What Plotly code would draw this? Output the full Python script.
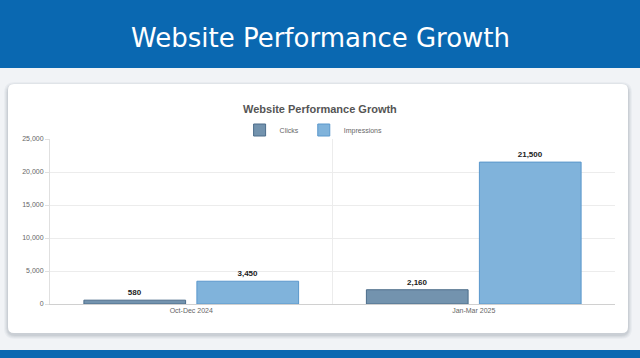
import plotly.graph_objects as go

categories = ["Oct-Dec 2024", "Jan-Mar 2025"]
clicks = [580, 2160]
impressions = [3450, 21500]
y_ticks = [0, 5000, 10000, 15000, 20000, 25000]

W, H = 640, 358

def px(x):
    return x / W

def py(y):
    return 1 - y / H

fig = go.Figure()
fig.add_trace(go.Bar(
    name="Clicks", x=categories, y=clicks,
    marker=dict(color="#7393ae", line=dict(color="#4c6d8a", width=1)),
    texttemplate="<b>%{y:,}</b>", textposition="outside",
    textfont=dict(size=8, color="#222", family="Liberation Sans"),
    cliponaxis=False,
))
fig.add_trace(go.Bar(
    name="Impressions", x=categories, y=impressions,
    marker=dict(color="#80b3db", line=dict(color="#5a98cc", width=1)),
    texttemplate="<b>%{y:,}</b>", textposition="outside",
    textfont=dict(size=8, color="#222", family="Liberation Sans"),
    cliponaxis=False,
))

shapes = []
shapes.append(dict(type="rect", xref="paper", yref="paper", x0=0, x1=1, y0=py(68), y1=1,
                   fillcolor="#0a68b1", line=dict(width=0), layer="below"))
shapes.append(dict(type="rect", xref="paper", yref="paper", x0=0, x1=1, y0=0, y1=py(350),
                   fillcolor="#0a68b1", line=dict(width=0), layer="below"))

def card_path(x0, y0, x1, y1, r):
    X0, X1 = px(x0), px(x1)
    Y0, Y1 = py(y1), py(y0)
    rx, ry = r / W, r / H
    return (f"M {X0+rx},{Y0} L {X1-rx},{Y0} Q {X1},{Y0} {X1},{Y0+ry} L {X1},{Y1-ry} "
            f"Q {X1},{Y1} {X1-rx},{Y1} L {X0+rx},{Y1} Q {X0},{Y1} {X0},{Y1-ry} "
            f"L {X0},{Y0+ry} Q {X0},{Y0} {X0+rx},{Y0} Z")

for i, op in enumerate([0.04, 0.05, 0.06, 0.07]):
    d = 5 - i
    shapes.append(dict(type="path", xref="paper", yref="paper",
                       path=card_path(8 - d + 1, 84 - d + 3, 628 + d - 1, 333 + d + 1, 6 + d),
                       fillcolor=f"rgba(60,70,90,{op})", line=dict(width=0), layer="below"))
shapes.append(dict(type="path", xref="paper", yref="paper",
                   path=card_path(8, 84, 628, 333, 6),
                   fillcolor="#ffffff", line=dict(width=0), layer="below"))
shapes.append(dict(type="line", xref="x", yref="paper", x0=0.5, x1=0.5,
                   y0=py(304), y1=py(139), line=dict(color="#ececec", width=1), layer="below"))

fig.update_layout(
    width=W, height=H, autosize=False,
    margin=dict(l=0, r=0, t=0, b=0, pad=0, autoexpand=False),
    paper_bgcolor="#f1f3f6",
    plot_bgcolor="rgba(0,0,0,0)",
    barmode="group", bargap=0.2, bargroupgap=0.1,
    shapes=shapes,
    showlegend=True,
    legend=dict(orientation="h", x=0.49, xanchor="center", y=py(130), yanchor="middle",
                font=dict(size=7, color="#666", family="Liberation Sans"),
                bgcolor="rgba(0,0,0,0)", itemwidth=30, traceorder="normal"),
    xaxis=dict(domain=[px(50), px(615)], automargin=False,
               showgrid=False, showline=True, linecolor="#d0d0d0", linewidth=1,
               tickfont=dict(size=7, color="#666", family="Liberation Sans"),
               ticks="", fixedrange=True),
    yaxis=dict(domain=[py(304), py(139)], range=[0, 25000], automargin=False,
               tickvals=y_ticks, tickformat=",",
               showgrid=True, gridcolor="#ececec", gridwidth=1,
               showline=True, linecolor="#e0e0e0", zeroline=False,
               ticks="outside", ticklen=4, tickcolor="#e0e0e0",
               tickfont=dict(size=7, color="#666", family="Liberation Sans"),
               fixedrange=True),
    annotations=[
        dict(text="Website Performance Growth", xref="paper", yref="paper",
             x=0.5, y=py(38), yanchor="middle", showarrow=False,
             font=dict(size=26, color="#ffffff", family="DejaVu Sans")),
        dict(text="<b>Website Performance Growth</b>", xref="paper", yref="paper",
             x=0.5, y=py(109), yanchor="middle", showarrow=False,
             font=dict(size=11, color="#555555", family="Liberation Sans")),
    ],
)

fig.write_html(
    "out.html", config={"displayModeBar": False, "responsive": False},
    post_script=(
        "document.documentElement.style.margin='0';"
        "document.body.style.margin='0';document.body.style.overflow='hidden';"
        "document.body.style.background='#f1f3f6';"
        "var d=document.getElementById('{plot_id}');"
        "d.style.position='fixed';d.style.top='0px';d.style.left='0px';"
    ),
)
